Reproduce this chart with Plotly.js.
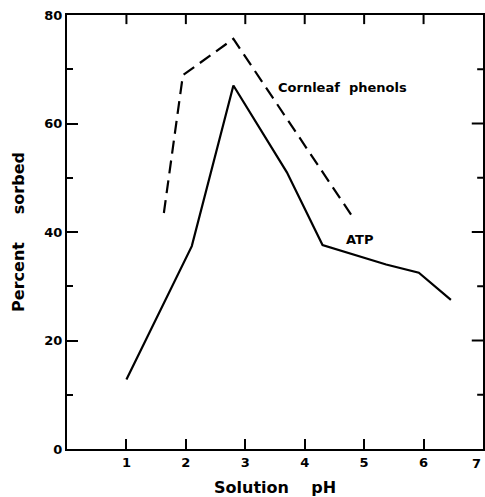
<!DOCTYPE html>
<html>
<head>
<meta charset="utf-8">
<script src="https://cdn.plot.ly/plotly-3.0.1.min.js"></script>
<style>html,body{margin:0;padding:0;background:#fff;}#chart{width:485px;height:497px;}</style>
</head>
<body>
<div id="chart"></div>
<script>
// Data
const atpPH = [1.0, 2.1, 2.8, 3.7, 4.3, 5.37, 5.92, 6.46];
const atpSorbed = [12.8, 37.4, 67.0, 51.0, 37.6, 34.0, 32.5, 27.5];
const phenolPH = [1.63, 1.95, 2.8, 4.78];
const phenolSorbed = [43.5, 68.9, 75.6, 43.2];
const xTickVals = [1, 2, 3, 4, 5, 6, 7];
const yTickVals = [0, 20, 40, 60, 80];
const labelATP = 'ATP';
const labelPhenols = 'Cornleaf&nbsp;&nbsp;phenols';

const FONT = 'DejaVu Sans, Arial, sans-serif';
const tickFont = {family: FONT, size: 13, weight: 'bold'};

const X_MAX = 7, Y_MAX = 80;
// Mirrored inward ticks for the top and right frame edges, built from the tick arrays
const topTickLen = Y_MAX * 0.021;   // about 9 px
const rightMajLen = X_MAX * 0.027;  // about 11 px
const rightMinLen = X_MAX * 0.014;  // about 6 px
const mirrorX = [], mirrorY = [];
xTickVals.slice(0, -1).forEach(v => { mirrorX.push(v, v, null); mirrorY.push(Y_MAX, Y_MAX - topTickLen, null); });
yTickVals.slice(1, -1).forEach(v => { mirrorX.push(X_MAX, X_MAX - rightMajLen, null); mirrorY.push(v, v, null); });
yTickVals.slice(0, -1).forEach((v, i) => {
  const m = (v + yTickVals[i + 1]) / 2;
  mirrorX.push(X_MAX, X_MAX - rightMinLen, null); mirrorY.push(m, m, null);
});

const traces = [
  {x: atpPH, y: atpSorbed, mode: 'lines', line: {color: '#000', width: 2.2}, showlegend: false, hoverinfo: 'skip'},
  {x: phenolPH, y: phenolSorbed, mode: 'lines', line: {color: '#000', width: 2.2, dash: '13px,7px'}, showlegend: false, hoverinfo: 'skip'},
  {x: mirrorX, y: mirrorY, mode: 'lines', connectgaps: false, line: {color: '#000', width: 2}, showlegend: false, hoverinfo: 'skip', cliponaxis: false}
];

const layout = {
  width: 485, height: 497,
  margin: {l: 67, r: 2, t: 15, b: 48},
  paper_bgcolor: '#fff', plot_bgcolor: '#fff',
  font: {family: FONT, color: '#000', size: 13},
  xaxis: {
    range: [0, X_MAX], showgrid: false, zeroline: false, automargin: false,
    showline: true, linecolor: '#000', linewidth: 2, mirror: true,
    ticks: 'inside', ticklen: 10, tickwidth: 2, tickcolor: '#000',
    tickvals: xTickVals, ticktext: xTickVals.map(String),
    tickfont: tickFont,
    title: {text: 'Solution&nbsp;&nbsp;&nbsp;&nbsp;pH', font: {family: FONT, size: 16, weight: 'bold'}, standoff: 14}
  },
  yaxis: {
    range: [0, Y_MAX], showgrid: false, zeroline: false, automargin: false,
    showline: true, linecolor: '#000', linewidth: 2, mirror: true,
    ticks: 'inside', ticklen: 11, tickwidth: 2, tickcolor: '#000',
    tickvals: yTickVals, ticktext: yTickVals.map(String),
    tickfont: tickFont,
    minor: {dtick: 10, tick0: 0, ticks: 'inside', ticklen: 6, tickwidth: 2, tickcolor: '#000'},
    title: {text: 'Percent&nbsp;&nbsp;&nbsp;&nbsp;&nbsp;sorbed', font: {family: FONT, size: 16, weight: 'bold'}, standoff: 16}
  },
  annotations: [
    {x: 3.52, y: 66.7, xref: 'x', yref: 'y', text: labelPhenols, showarrow: false, xanchor: 'left', yanchor: 'middle', font: tickFont},
    {x: 4.66, y: 38.6, xref: 'x', yref: 'y', text: labelATP, showarrow: false, xanchor: 'left', yanchor: 'middle', font: tickFont},
    {x: X_MAX, y: 0, xref: 'x', yref: 'paper', yshift: -14, text: String(xTickVals[xTickVals.length - 1]), showarrow: false, xanchor: 'right', yanchor: 'middle', font: tickFont}
  ]
};

Plotly.newPlot('chart', traces, layout, {displayModeBar: false, staticPlot: true});
</script>
</body>
</html>
